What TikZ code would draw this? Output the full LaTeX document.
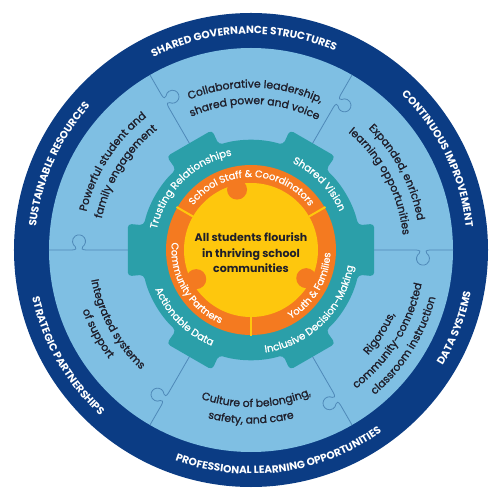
\documentclass[tikz,border=0pt]{standalone}
\usepackage{fontspec}
\setmainfont{Poppins}
\newfontfamily\pmed[FakeBold=1.1]{Poppins}
\newfontfamily\psemi[FakeBold=1.4]{Poppins}
\usetikzlibrary{decorations.text}
\definecolor{navy}{HTML}{0B3C84}
\definecolor{lblue}{HTML}{7FBFE3}
\definecolor{pline}{HTML}{4F89B8}
\definecolor{gteal}{HTML}{2B9FA9}
\definecolor{orng}{HTML}{F47A20}
\definecolor{yel}{HTML}{FEC70D}
\definecolor{ink}{HTML}{1F1F2B}
\newcommand\bandfont{\fontsize{10.5}{12}\selectfont\bfseries}
\newcommand\secfont{\psemi\fontsize{10.8}{12}\selectfont}
\newcommand\gearfont{\pmed\fontsize{10.2}{12}\selectfont}
\newcommand\ofont{\pmed\fontsize{9.8}{12}\selectfont}
% #1 colour, #2 font, #3 centre angle, #4 half span, #5 baseline radius, #6 text
\newcommand\toptext[6]{%
  \path[decorate, decoration={text along path, text align=center, text color=#1, text={|#2|#6}}]
    ({#3+#4}:#5pt) arc[start angle={#3+#4}, end angle={#3-#4}, radius=#5pt];}
\newcommand\bottext[6]{%
  \path[decorate, decoration={text along path, text align=center, text color=#1, text={|#2|#6}}]
    ({#3-#4}:#5pt) arc[start angle={#3-#4}, end angle={#3+#4}, radius=#5pt];}
\tikzset{
  puzzle/.style={draw=pline, line width=0.8pt},
}
\begin{document}
\begin{tikzpicture}
\useasboundingbox (-251pt,-250pt) rectangle (247pt,250pt);
\fill[white] (-251pt,-250pt) rectangle (247pt,250pt);
% outer rings
\fill[navy] (0,0) circle (237pt);
\fill[lblue] (0,0) circle (202pt);
% puzzle boundaries
\foreach \a in {0,60,...,300} {
  \draw[puzzle, rotate=\a] (112pt,0) -- (165pt,0)
    .. controls (169pt,0) and (170.2pt,-1.9pt) .. (168.27pt,-3.33pt)
    arc[start angle=125, end angle=415, radius=6.5pt]
    .. controls (173.8pt,-1.9pt) and (175pt,0) .. (179pt,0) -- (202pt,0);
}
% gear
\fill[gteal, rounded corners=4pt] (-13:110pt) -- (-12:126pt) -- (12:126pt) -- (13:110pt)
  \foreach \k in {60,120,...,300} {
    arc[start angle={\k-47}, end angle={\k-13}, radius=110pt]
    -- ({\k-12}:126pt) -- ({\k+12}:126pt) -- ({\k+13}:110pt) }
  arc[start angle=313, end angle=346.5, radius=110pt] -- cycle;
% orange ring and yellow core
\fill[orng] (0,0) circle (85pt);
\fill[yel] (0,0) circle (67pt);
\foreach \a in {103,208,333} { \fill[orng] (\a:62pt) circle (10pt); }
\foreach \a in {30,150,270} { \draw[yel, line width=2pt] (\a:66pt) -- (\a:86pt); }
% centre text
\node[align=center, font=\fontsize{11}{15.5}\selectfont\bfseries, text=ink] (core) at (0,-3pt)
  {All students flourish\\in thriving school\\communities};
% band text
\toptext{white}{\bandfont}{92}{60}{216}{SHARED GOVERNANCE STRUCTURES}
\toptext{white}{\bandfont}{26}{40}{216}{CONTINUOUS IMPROVEMENT}
\bottext{white}{\bandfont}{-21}{35}{224}{DATA SYSTEMS}
\bottext{white}{\bandfont}{278}{50}{224}{PROFESSIONAL LEARNING OPPORTUNITIES}
\bottext{white}{\bandfont}{210}{40}{224}{STRATEGIC PARTNERSHIPS}
\toptext{white}{\bandfont}{156}{40}{216}{SUSTAINABLE RESOURCES}
% sector text
\toptext{ink}{\secfont}{88.5}{40}{162.5}{Collaborative leadership,}
\toptext{ink}{\secfont}{88.5}{40}{146}{shared power and voice}
\toptext{ink}{\secfont}{28}{35}{169}{Expanded, enriched}
\toptext{ink}{\secfont}{28}{35}{152.5}{learning opportunities}
\bottext{ink}{\secfont}{-33}{30}{157.5}{Rigorous,}
\bottext{ink}{\secfont}{-32}{30}{174}{community-connected}
\bottext{ink}{\secfont}{-32}{30}{190.5}{classroom instruction}
\bottext{ink}{\secfont}{272}{35}{157}{Culture of belonging,}
\bottext{ink}{\secfont}{270}{35}{173.5}{safety, and care}
\bottext{ink}{\secfont}{209}{35}{162.5}{Integrated systems}
\bottext{ink}{\secfont}{208.6}{35}{179}{of support}
\toptext{ink}{\secfont}{147.5}{35}{169}{Powerful student and}
\toptext{ink}{\secfont}{148}{35}{152.5}{family engagement}
% gear text
\toptext{white}{\gearfont}{134.5}{45}{96.5}{Trusting Relationships}
\toptext{white}{\gearfont}{44}{30}{96.5}{Shared Vision}
\bottext{white}{\gearfont}{225}{35}{103.5}{Actionable Data}
\bottext{white}{\gearfont}{314.5}{50}{103.5}{Inclusive Decision-Making}
% orange ring text
\toptext{white}{\ofont}{89.5}{70}{73}{School Staff {\&} Coordinators}
\bottext{white}{\ofont}{211}{50}{79.5}{Community Partners}
\bottext{white}{\ofont}{329}{50}{79.5}{Youth {\&} Families}
\end{tikzpicture}
\end{document}
